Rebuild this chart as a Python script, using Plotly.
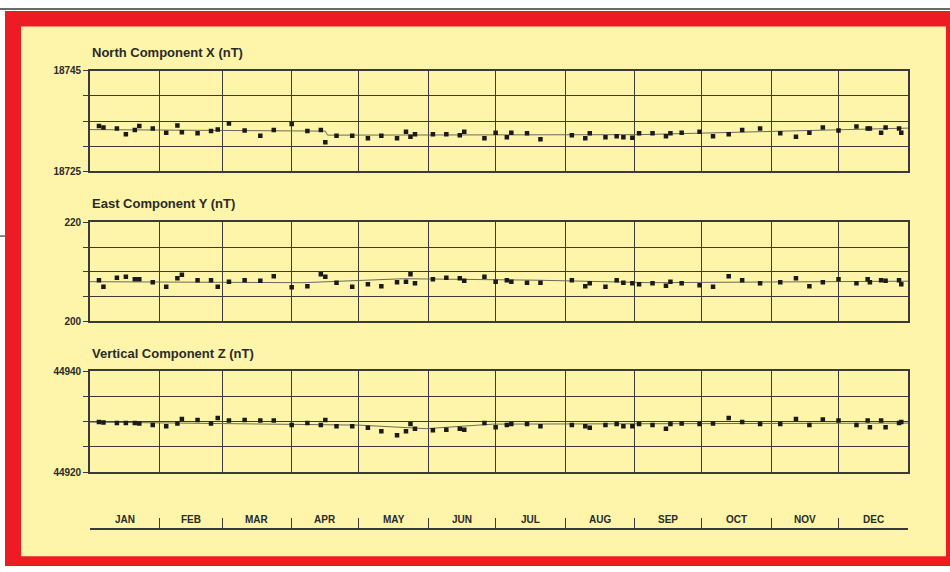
import plotly.graph_objects as go

W, H = 950, 572

# ---------------- data ----------------
month_starts = [0, 31, 59, 90, 120, 151, 181, 212, 243, 273, 304, 334, 365]
month_labels = ["JAN", "FEB", "MAR", "APR", "MAY", "JUN",
                "JUL", "AUG", "SEP", "OCT", "NOV", "DEC"]

days = [4, 6, 12, 16, 20, 22, 28, 34, 39, 41, 48, 54, 57, 62, 69, 76, 82, 90, 97,
        103, 105, 110, 117, 124, 130, 137, 141, 143, 145, 153, 159, 165, 167, 176,
        181, 186, 188, 195, 201, 215, 221, 223, 230, 235, 238, 242, 245, 251, 257,
        259, 264, 272, 278, 285, 291, 299, 308, 315, 321, 327, 334, 342, 347, 348,
        353, 355, 361, 362]

north_x = [18734.0, 18733.7, 18733.5, 18732.4, 18733.2, 18734.0, 18733.5, 18732.7,
           18734.1, 18732.8, 18732.6, 18733.0, 18733.3, 18734.5, 18733.1, 18732.1,
           18733.2, 18734.4, 18733.0, 18733.2, 18730.8, 18732.1, 18732.1, 18731.6,
           18732.1, 18731.6, 18732.9, 18731.9, 18732.4, 18732.4, 18732.4, 18732.2,
           18732.9, 18731.6, 18732.7, 18731.8, 18732.7, 18732.6, 18731.4, 18732.2,
           18731.6, 18732.6, 18731.8, 18732.0, 18731.8, 18731.7, 18732.6, 18732.6,
           18732.0, 18732.6, 18732.7, 18732.9, 18732.0, 18732.4, 18733.2, 18733.5,
           18732.6, 18731.9, 18732.7, 18733.7, 18733.1, 18733.9, 18733.5, 18733.5,
           18732.7, 18733.7, 18733.5, 18732.7]

east_y = [208.3, 207.0, 208.8, 209.0, 208.5, 208.5, 207.9, 207.0, 208.7, 209.4,
          208.3, 208.3, 207.0, 208.0, 208.3, 208.2, 209.1, 206.9, 207.1, 209.5,
          209.0, 207.8, 207.0, 207.5, 207.1, 207.9, 208.0, 209.5, 207.7, 208.5,
          208.8, 208.7, 208.2, 209.0, 208.0, 208.3, 208.0, 207.8, 207.8, 208.3,
          207.1, 207.7, 207.0, 208.3, 207.8, 207.7, 207.5, 207.7, 207.2, 208.0,
          207.7, 207.3, 207.0, 209.1, 208.3, 207.7, 207.9, 208.7, 207.1, 207.9,
          208.5, 207.7, 208.5, 207.9, 208.3, 208.2, 208.3, 207.5]

vert_z = [44929.9, 44929.8, 44929.7, 44929.7, 44929.7, 44929.6, 44929.3, 44929.1,
          44929.6, 44930.5, 44930.3, 44929.6, 44930.7, 44930.2, 44930.3, 44930.2,
          44930.2, 44929.3, 44929.7, 44929.3, 44930.3, 44929.1, 44929.1, 44928.8,
          44928.1, 44927.3, 44928.1, 44929.5, 44928.6, 44928.3, 44928.4, 44928.6,
          44928.4, 44929.7, 44928.9, 44929.3, 44929.5, 44929.5, 44929.1, 44929.3,
          44929.1, 44928.8, 44929.3, 44929.5, 44929.1, 44929.1, 44929.5, 44929.3,
          44928.6, 44929.5, 44929.6, 44929.5, 44929.6, 44930.7, 44929.9, 44929.5,
          44929.5, 44930.5, 44929.3, 44930.4, 44930.2, 44929.3, 44930.2, 44928.9,
          44930.2, 44928.9, 44929.7, 44929.9]

# reference (mean) lines drawn through each series
north_ref_days = [0, 105, 106, 245, 300, 365]
north_ref = [18733.3, 18733.0, 18732.2, 18732.3, 18732.9, 18733.6]
east_ref_days = [0, 95, 140, 200, 250, 365]
east_ref = [208.0, 207.8, 208.6, 208.3, 207.8, 208.1]
vert_ref_days = [0, 120, 150, 180, 365]
vert_ref = [44929.9, 44929.3, 44928.6, 44929.5, 44929.7]

panels = [
    ("North Component X (nT)", north_x, north_ref_days, north_ref, [18725, 18745]),
    ("East Component Y (nT)", east_y, east_ref_days, east_ref, [200, 220]),
    ("Vertical Component Z (nT)", vert_z, vert_ref_days, vert_ref, [44920, 44940]),
]

# ---------------- layout geometry (pixels) ----------------
def px_x(x):
    return x / W

def px_y(y):
    return 1 - y / H

plot_left, plot_right = 90, 908
panel_px = [(66, 169), (221, 322), (373, 476)]
title_px = [48, 202, 355]

FONT = "Liberation Sans, Arial, sans-serif"
INK = "#2a2a2a"
GRID = "#3a3a3a"

fig = go.Figure()
layout = dict(
    width=W, height=H,
    margin=dict(l=0, r=0, t=0, b=0),
    paper_bgcolor="white",
    plot_bgcolor="rgba(0,0,0,0)",
    showlegend=False,
    font=dict(family=FONT, color=INK),
)

annotations = []
for i, (title, vals, rdays, rvals, yr) in enumerate(panels):
    n = i + 1
    xa = "x" if n == 1 else f"x{n}"
    ya = "y" if n == 1 else f"y{n}"
    fig.add_trace(go.Scatter(x=rdays, y=rvals, mode="lines", xaxis=xa, yaxis=ya,
                             line=dict(color="#6a6a5a", width=1), hoverinfo="skip"))
    fig.add_trace(go.Scatter(x=days, y=vals, mode="markers", xaxis=xa, yaxis=ya,
                             marker=dict(symbol="square", size=4.5, color="#1a1a1a",
                                         line=dict(width=0))))
    top, bot = panel_px[i]
    step = (yr[1] - yr[0]) / 4
    ytv = [yr[0] + k * step for k in range(5)]
    ytt = [str(yr[0]), "", "", "", str(yr[1])]
    layout["xaxis" if n == 1 else f"xaxis{n}"] = dict(
        domain=[px_x(plot_left), px_x(plot_right)], anchor=ya, range=[0, 365],
        tickvals=month_starts, showticklabels=False, ticks="",
        showgrid=True, gridcolor=GRID, gridwidth=1.4,
        showline=True, linecolor=GRID, linewidth=1.6, mirror=True, zeroline=False,
    )
    layout["yaxis" if n == 1 else f"yaxis{n}"] = dict(
        domain=[px_y(bot), px_y(top)], anchor=xa, range=yr,
        tickvals=ytv, ticktext=ytt, ticks="outside", ticklen=5,
        tickcolor=GRID, tickwidth=1.4,
        tickfont=dict(size=10, family=FONT, color=INK, weight="bold"),
        showgrid=True, gridcolor=GRID, gridwidth=1.4,
        showline=True, linecolor=GRID, linewidth=1.6, mirror=True, zeroline=False,
    )
    annotations.append(dict(
        text=title, xref="paper", yref="paper", x=px_x(plot_left), y=px_y(title_px[i]),
        xanchor="left", yanchor="middle", showarrow=False,
        font=dict(size=13, family=FONT, color=INK, weight="bold"),
    ))

# month bracket axis
fig.add_trace(go.Scatter(x=[], y=[], xaxis="x4", yaxis="y4", hoverinfo="skip"))
layout["xaxis4"] = dict(
    domain=[px_x(plot_left), px_x(plot_right)], anchor="y4", range=[0, 365],
    tickvals=month_starts, showticklabels=False, ticks="inside", ticklen=10,
    tickcolor=GRID, tickwidth=1.4, showgrid=False, zeroline=False,
    showline=True, linecolor=GRID, linewidth=1.6,
)
layout["yaxis4"] = dict(domain=[px_y(533), px_y(520)], anchor="x4", range=[0, 1],
                        visible=False)
for k, lab in enumerate(month_labels):
    annotations.append(dict(
        text=lab, xref="x4", yref="paper",
        x=(month_starts[k] + month_starts[k + 1]) / 2, y=px_y(525),
        xanchor="center", yanchor="middle", showarrow=False,
        font=dict(size=10, family=FONT, color=INK, weight="bold"),
    ))

layout["annotations"] = annotations
layout["shapes"] = [
    dict(type="rect", xref="paper", yref="paper", x0=px_x(5), x1=px_x(950),
         y0=px_y(572), y1=px_y(5), fillcolor="#ED1C24", line=dict(width=0), layer="below"),
    dict(type="rect", xref="paper", yref="paper", x0=px_x(21), x1=px_x(946),
         y0=px_y(562), y1=px_y(21), fillcolor="#FEF5AB", line=dict(width=0), layer="below"),
    dict(type="line", xref="paper", yref="paper", x0=0, x1=1,
         y0=px_y(3), y1=px_y(3), line=dict(color="#3a3a3a", width=1.5), layer="below"),
    dict(type="line", xref="paper", yref="paper", x0=0, x1=px_x(5),
         y0=px_y(235), y1=px_y(235), line=dict(color="#3a3a3a", width=1.2), layer="below"),
]

fig.update_layout(**layout)
fig.write_html("out.html")
